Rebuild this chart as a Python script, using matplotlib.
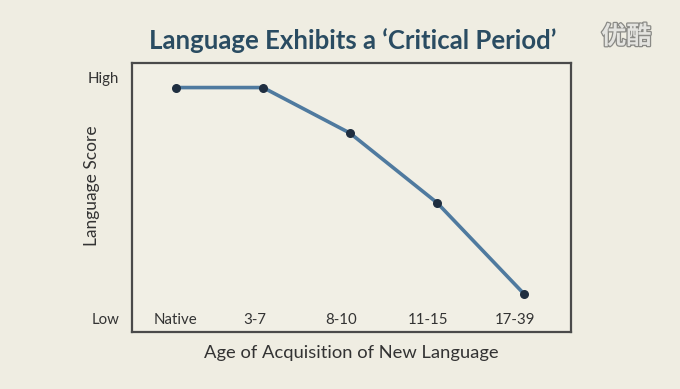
"""Critical period chart: language score by age of acquisition."""

import matplotlib
matplotlib.use('Agg')
import matplotlib.pyplot as plt
import matplotlib.patheffects as pe

# data (score on a 0=Low .. 10=High scale)
age_groups = ['Native', '3-7', '8-10', '11-15', '17-39']
scores = [9.6, 9.6, 7.7, 4.8, 1.0]
y_ticks = [0, 10]
y_tick_labels = ['Low', 'High']

BG = '#efede2'
LINE = '#4f7a9f'
DOT = '#1f2e40'
TEXT = '#333333'
TITLE = '#2a4c62'

plt.rcParams['font.family'] = ['Lato', 'DejaVu Sans']

fig = plt.figure(figsize=(6.8, 3.89), dpi=100)
fig.patch.set_facecolor(BG)
ax = fig.add_axes([0.194, 0.1465, 0.646, 0.692])
ax.set_facecolor('#f1efe5')

xs = list(range(len(age_groups)))
ax.plot(xs, scores, color=LINE, lw=2.6, zorder=2)
ax.scatter(xs, scores, color=DOT, s=30, zorder=3)

ax.set_xlim(-0.506, 4.54)
ax.set_ylim(-0.58, 10.63)

ax.set_xticks([x - 0.1 if x else x for x in xs])
ax.set_xticklabels(age_groups, fontsize=10.8, color=TEXT)
ax.tick_params(axis='x', length=0, pad=-14)
ax.set_yticks(y_ticks)
ax.set_yticklabels(y_tick_labels, fontsize=10.8, color=TEXT)
ax.tick_params(axis='y', length=0, pad=9)

for spine in ax.spines.values():
    spine.set_color('#4a4a4a')
    spine.set_linewidth(1.6)

ax.set_xlabel('Age of Acquisition of New Language', fontsize=13.2, color=TEXT, labelpad=9)
ax.set_ylabel('Language Score', fontsize=12.5, color=TEXT)
ax.yaxis.set_label_coords(-0.073, 0.543)

fig.text(0.518, 0.897, 'Language Exhibits a \u2018Critical Period\u2019', ha='center', va='center',
         fontsize=18.5, fontweight='bold', color=TITLE)

wm = fig.text(0.921, 0.905, '优酷', ha='center', va='center', fontsize=18,
              family=['Noto Sans CJK SC', 'DejaVu Sans'], fontweight='bold', color='#e4e4e0')
wm.set_path_effects([pe.withStroke(linewidth=1.8, foreground='#8a8a86')])

plt.savefig('out.png', dpi=100, facecolor=BG)
